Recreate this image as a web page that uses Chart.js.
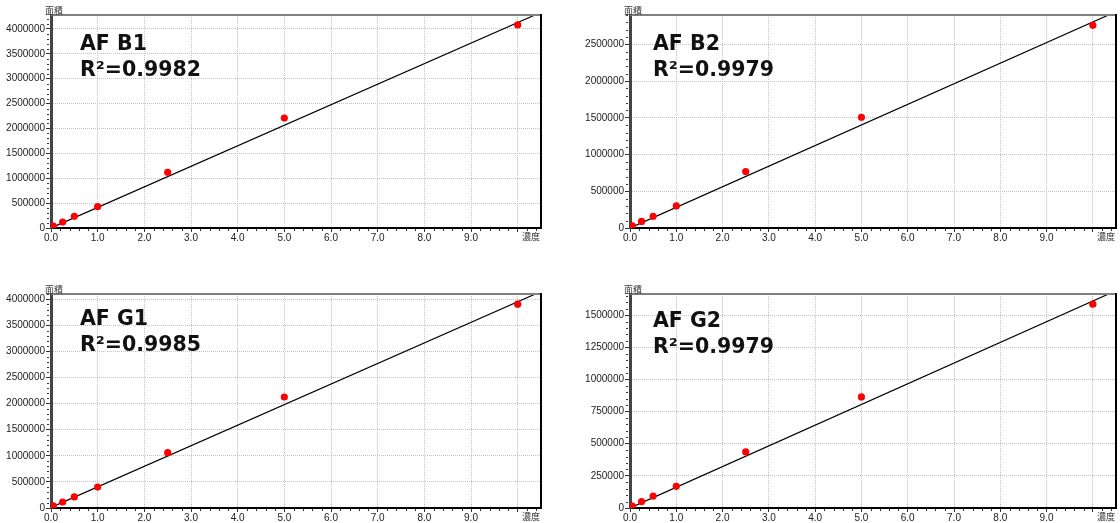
<!DOCTYPE html>
<html>
<head>
<meta charset="utf-8">
<script src="https://cdn.jsdelivr.net/npm/chart.js@4.4.1/dist/chart.umd.min.js"></script>
<style>
  body { margin: 0; background: #fff; width: 1120px; height: 523px; position: relative; overflow: hidden; }
  canvas { position: absolute; }
</style>
</head>
<body>
<canvas id="cB1" width="560" height="262" style="left:0;top:0"></canvas>
<canvas id="cB2" width="560" height="262" style="left:560px;top:0"></canvas>
<canvas id="cG1" width="560" height="244" style="left:0;top:279px"></canvas>
<canvas id="cG2" width="560" height="244" style="left:560px;top:279px"></canvas>
<script>
// standard concentrations (x axis, 濃度)
const conc = [0, 0.05, 0.25, 0.5, 1.0, 2.5, 5.0, 10.0];

// peak areas (y axis, 面積)
const areaB1 = [5000, 40000, 120000, 235000, 430000, 1120000, 2210000, 4080000];
const areaB2 = [3000, 30000, 90000, 160000, 300000, 768000, 1508000, 2760000];
const areaG1 = [5000, 40000, 115000, 212000, 400000, 1060000, 2127000, 3905000];
const areaG2 = [2000, 15000, 50000, 93000, 169000, 436000, 864000, 1586000];

// calibration line end points
const fitX_B1 = [0, 10.37], fitY_B1 = [0, 4280000];
const fitX_B2 = [0, 10.34], fitY_B2 = [0, 2900000];
const fitX_G1 = [0, 10.38], fitY_G1 = [10000, 4100000];
const fitX_G2 = [0, 10.34], fitY_G2 = [0, 1665000];

// tick values / labels
const xTickVals = [0, 1, 2, 3, 4, 5, 6, 7, 8, 9, 10];
const xTickLabels = ['0.0', '1.0', '2.0', '3.0', '4.0', '5.0', '6.0', '7.0', '8.0', '9.0', ''];
const yTicksB1 = [0, 500000, 1000000, 1500000, 2000000, 2500000, 3000000, 3500000, 4000000];
const yTicksB2 = [0, 500000, 1000000, 1500000, 2000000, 2500000];
const yTicksG1 = [0, 500000, 1000000, 1500000, 2000000, 2500000, 3000000, 3500000, 4000000];
const yTicksG2 = [0, 250000, 500000, 750000, 1000000, 1250000, 1500000];

// top/right frame, minor ticks, axis names and the big label
const decor = {
  id: 'decor',
  afterDraw(chart, args, o) {
    const { ctx, chartArea: a, scales: { x, y } } = chart;
    ctx.save();
    // minor ticks
    ctx.strokeStyle = '#333';
    ctx.lineWidth = 1;
    ctx.beginPath();
    for (let i = 0; i * 0.2 <= x.max; i++) {
      if (i % 5 === 0) continue;
      const px = Math.round(x.getPixelForValue(i * 0.2)) + 0.5;
      ctx.moveTo(px, a.bottom + 1);
      ctx.lineTo(px, a.bottom + 3);
    }
    for (let i = 0; i * o.minorY <= y.max; i++) {
      if (i % o.minorEvery === 0) continue;
      const py = Math.round(y.getPixelForValue(i * o.minorY)) + 0.5;
      ctx.moveTo(a.left - 2, py);
      ctx.lineTo(a.left - 4, py);
    }
    ctx.stroke();
    // frame: grey top, black right
    ctx.lineWidth = 2;
    ctx.strokeStyle = '#808080';
    ctx.beginPath();
    ctx.moveTo(a.left, a.top);
    ctx.lineTo(a.right, a.top);
    ctx.stroke();
    ctx.strokeStyle = '#000';
    ctx.beginPath();
    ctx.moveTo(a.right, a.top - 1);
    ctx.lineTo(a.right, a.bottom);
    ctx.stroke();
    // axis names
    ctx.fillStyle = '#333';
    ctx.font = '9px "Noto Sans CJK JP"';
    ctx.textBaseline = 'alphabetic';
    ctx.fillText('面積', a.left - 6, a.top - 1);
    ctx.textBaseline = 'middle';
    ctx.fillText('濃度', a.right - 19, a.bottom + 9);
    // sample name and R²
    ctx.fillStyle = '#111';
    ctx.font = 'bold 20.5px "DejaVu Sans"';
    ctx.textBaseline = 'alphabetic';
    ctx.fillText(o.name, o.tx, o.ty);
    ctx.fillText('R²=' + o.r2, o.tx, o.ty + 26);
    ctx.restore();
  }
};

const tickFont = { family: '"Liberation Sans", Arial, sans-serif', size: 10 };

function makeChart(id, p) {
  return new Chart(document.getElementById(id), {
    type: 'scatter',
    data: {
      datasets: [
        { data: p.fitX.map((v, i) => ({ x: v, y: p.fitY[i] })), showLine: true, borderColor: '#000', borderWidth: 1.2, pointRadius: 0, order: 2 },
        { data: conc.map((v, i) => ({ x: v, y: p.area[i] })), backgroundColor: '#ff0000', borderWidth: 0, pointRadius: 3.6, order: 1 }
      ]
    },
    options: {
      responsive: false,
      animation: false,
      layout: { padding: { top: 15, right: p.padR, left: 0, bottom: 0 } },
      plugins: {
        legend: { display: false },
        tooltip: { enabled: false },
        decor: { name: p.name, r2: p.r2, tx: p.tx, ty: p.ty, minorY: p.minorY, minorEvery: p.minorEvery }
      },
      scales: {
        x: {
          type: 'linear', min: 0, max: 10.5,
          afterBuildTicks: s => { s.ticks = xTickVals.map(v => ({ value: v })); },
          afterFit: s => { s.height = p.xH; s.paddingLeft = 0; s.paddingRight = 0; },
          ticks: { color: '#222', font: tickFont, padding: 0, maxRotation: 0, autoSkip: false,
                   callback: (v, i) => xTickLabels[i] },
          grid: { color: '#c4c4c4', tickColor: '#333', tickLength: 4, lineWidth: 1 },
          border: { display: true, color: '#000', width: 2, dash: [1, 1] }
        },
        y: {
          type: 'linear', min: 0, max: p.yMax,
          afterBuildTicks: s => { s.ticks = p.yTicks.map(v => ({ value: v })); },
          afterFit: s => { s.width = p.yW; s.paddingTop = 0; s.paddingBottom = 0; },
          ticks: { color: '#222', font: tickFont, padding: 1, callback: v => String(v) },
          grid: { color: '#c4c4c4', tickColor: '#333', tickLength: 5, lineWidth: 1 },
          border: { display: true, color: '#444', width: 3, dash: [1, 1] }
        }
      }
    },
    plugins: [decor]
  });
}

makeChart('cB1', { name: 'AF B1', r2: '0.9982', area: areaB1, fitX: fitX_B1, fitY: fitY_B1, yTicks: yTicksB1,
  yMax: 4280000, minorY: 100000, minorEvery: 5, yW: 51, xH: 34, padR: 19, tx: 80, ty: 50 });
makeChart('cB2', { name: 'AF B2', r2: '0.9979', area: areaB2, fitX: fitX_B2, fitY: fitY_B2, yTicks: yTicksB2,
  yMax: 2900000, minorY: 100000, minorEvery: 5, yW: 70, xH: 34, padR: 2, tx: 93, ty: 50 });
makeChart('cG1', { name: 'AF G1', r2: '0.9985', area: areaG1, fitX: fitX_G1, fitY: fitY_G1, yTicks: yTicksG1,
  yMax: 4100000, minorY: 100000, minorEvery: 5, yW: 51, xH: 15, padR: 19, tx: 80, ty: 46 });
makeChart('cG2', { name: 'AF G2', r2: '0.9979', area: areaG2, fitX: fitX_G2, fitY: fitY_G2, yTicks: yTicksG2,
  yMax: 1665000, minorY: 50000, minorEvery: 5, yW: 70, xH: 15, padR: 2, tx: 93, ty: 48 });
</script>
</body>
</html>
